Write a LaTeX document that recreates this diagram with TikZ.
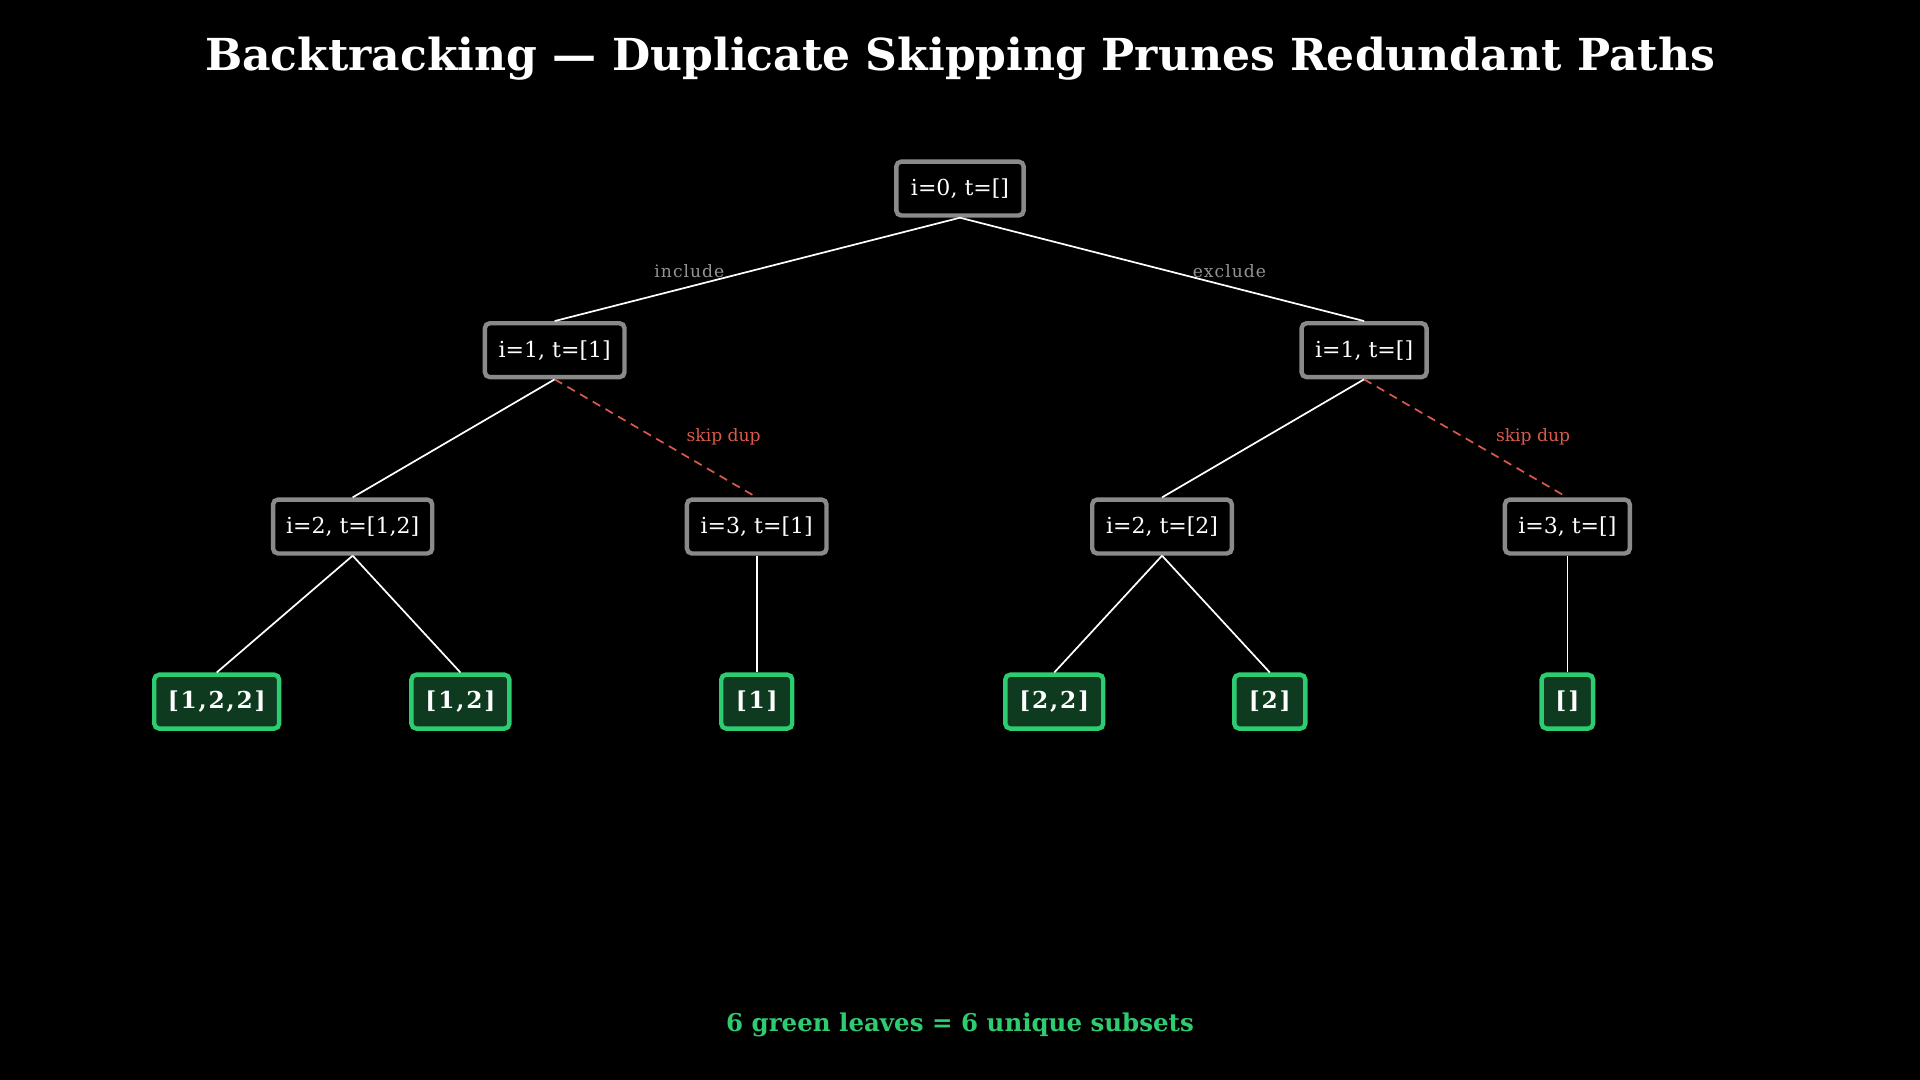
\documentclass[tikz,border=0pt]{standalone}
\usepackage{fontspec}
\setmainfont{DejaVu Serif}
\usetikzlibrary{positioning}
\definecolor{leafgreen}{HTML}{2ECC71}
\definecolor{leaffill}{HTML}{0E3B20}
\definecolor{boxgray}{HTML}{8A8A8A}
\definecolor{dupred}{HTML}{D9594C}
\tikzset{
    every node/.style={font=\fontsize{18}{21}\selectfont, text=white},
    state node/.style={draw=boxgray, fill=black, line width=3.6pt, rounded corners=4pt,
        minimum height=44pt, inner sep=0pt},
    leaf node/.style={draw=leafgreen, fill=leaffill, line width=3.6pt, rounded corners=4pt,
        minimum height=44pt, inner sep=0pt, font=\fontsize{19}{22}\selectfont\bfseries\addfontfeatures{LetterSpace=8}},
    edge label/.style={font=\fontsize{14}{16}\selectfont\addfontfeatures{LetterSpace=6}, text=gray!85}
}
\begin{document}
\begin{tikzpicture}[x=1pt, y=-1pt,
            tree edge/.style={draw=white, line width=1.4pt},
            skip edge/.style={draw=dupred, line width=1.4pt, dash pattern=on 7pt off 5pt}
        ]
        \fill[black] (0,0) rectangle (1568,882);
        \useasboundingbox (0,0) rectangle (1568,882);

        \node[font=\fontsize{36}{40}\selectfont\bfseries] (title) at (784,48)
            {Backtracking — Duplicate Skipping Prunes Redundant Paths};

        % states
        \node[state node, minimum width=104pt] (root) at (784,154) {i=0, t=[]};
        \node[state node, minimum width=114pt] (l1) at (453,286) {i=1, t=[1]};
        \node[state node, minimum width=102pt] (r1) at (1114,286) {i=1, t=[]};
        \node[state node, minimum width=130pt] (l2a) at (288,430) {i=2, t=[1,2]};
        \node[state node, minimum width=114pt] (l2b) at (618,430) {i=3, t=[1]};
        \node[state node, minimum width=114pt] (r2a) at (949,430) {i=2, t=[2]};
        \node[state node, minimum width=102pt] (r2b) at (1280,430) {i=3, t=[]};

        % leaves
        \node[leaf node, minimum width=102pt] (s122) at (177,573) {[1,2,2]};
        \node[leaf node, minimum width=80pt] (s12) at (376,573) {[1,2]};
        \node[leaf node, minimum width=58pt] (s1) at (618,573) {[1]};
        \node[leaf node, minimum width=80pt] (s22) at (861,573) {[2,2]};
        \node[leaf node, minimum width=58pt] (s2) at (1037,573) {[2]};
        \node[leaf node, minimum width=42pt] (s0) at (1280,573) {[]};

        \path[tree edge] (root.south) -- (l1.north);
        \path[tree edge] (root.south) -- (r1.north);
        \path[tree edge] (l1.south) -- (l2a.north);
        \path[skip edge] (l1.south) -- (l2b.north);
        \path[tree edge] (r1.south) -- (r2a.north);
        \path[skip edge] (r1.south) -- (r2b.north);
        \path[tree edge] (l2a.south) -- (s122.north);
        \path[tree edge] (l2a.south) -- (s12.north);
        \path[tree edge] (l2b.south) -- (s1.north);
        \path[tree edge] (r2a.south) -- (s22.north);
        \path[tree edge] (r2a.south) -- (s2.north);
        \path[tree edge] (r2b.south) -- (s0.north);

        \node[edge label] (inc) at (563,221) {include};
        \node[edge label] (exc) at (1004,221) {exclude};
        \node[edge label, text=dupred, font=\fontsize{14}{16}\selectfont] (dupl) at (591,357) {skip dup};
        \node[edge label, text=dupred, font=\fontsize{14}{16}\selectfont] (dupr) at (1252,357) {skip dup};

        \node[font=\fontsize{20}{24}\selectfont\bfseries, text=leafgreen] (note) at (784,837)
            {6 green leaves = 6 unique subsets};
\end{tikzpicture}
\end{document}
